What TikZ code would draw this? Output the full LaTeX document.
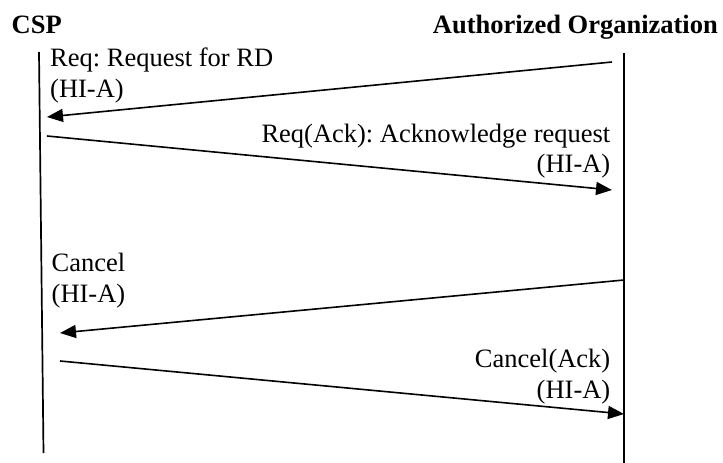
\documentclass[tikz,border=0pt]{standalone}
\usepackage{fontspec}
\setmainfont{Liberation Serif}
\usetikzlibrary{arrows.meta}
\frenchspacing
\begin{document}
\begin{tikzpicture}[x=1pt,y=-1pt,
  lifeline/.style={line width=1.7pt},
  msg/.style={line width=1.6pt,-{Triangle[length=16pt,width=13pt]}},
  lbl/.style={inner sep=0pt,font=\fontsize{26.5}{30.5}\selectfont},
  hdr/.style={inner sep=0pt,font=\fontsize{26.5}{30.5}\selectfont\bfseries}]
\useasboundingbox (0,0) rectangle (723,463);
% headers
\node[hdr,anchor=base west] (csp) at (11.5,33) {CSP};
\node[hdr,anchor=base east] (ao) at (718,33) {Authorized Organization};
% lifelines
\coordinate (lt) at (39,52);
\coordinate (lb) at (43.5,453);
\coordinate (rt) at (624,53);
\coordinate (rb) at (624,463);
\draw[lifeline] (lt) -- (lb);
\draw[lifeline] (rt) -- (rb);
% message end points
\coordinate (m1s) at (612,62);
\coordinate (m1e) at (47,117);
\coordinate (m2s) at (47,136);
\coordinate (m2e) at (612,190);
\coordinate (m3s) at (624,280);
\coordinate (m3e) at (60,333);
\coordinate (m4s) at (60,361);
\coordinate (m4e) at (624,414);
\draw[msg] (m1s) -- (m1e);
\draw[msg] (m2s) -- (m2e);
\draw[msg] (m3s) -- (m3e);
\draw[msg] (m4s) -- (m4e);
% labels
\node[lbl,anchor=base west] (l1a) at (50,66.5) {Req: Request for RD};
\node[lbl,anchor=base west] (l1b) at (50,97) {(HI-A)};
\node[lbl,anchor=base east] (l2a) at (610.5,142) {Req(Ack): Acknowledge request};
\node[lbl,anchor=base east] (l2b) at (610.5,172.5) {(HI-A)};
\node[lbl,anchor=base west] (l3a) at (51.5,271.5) {Cancel};
\node[lbl,anchor=base west] (l3b) at (51.5,302) {(HI-A)};
\node[lbl,anchor=base east] (l4a) at (610.5,367.5) {Cancel(Ack)};
\node[lbl,anchor=base east] (l4b) at (610.5,398) {(HI-A)};
\end{tikzpicture}
\end{document}
